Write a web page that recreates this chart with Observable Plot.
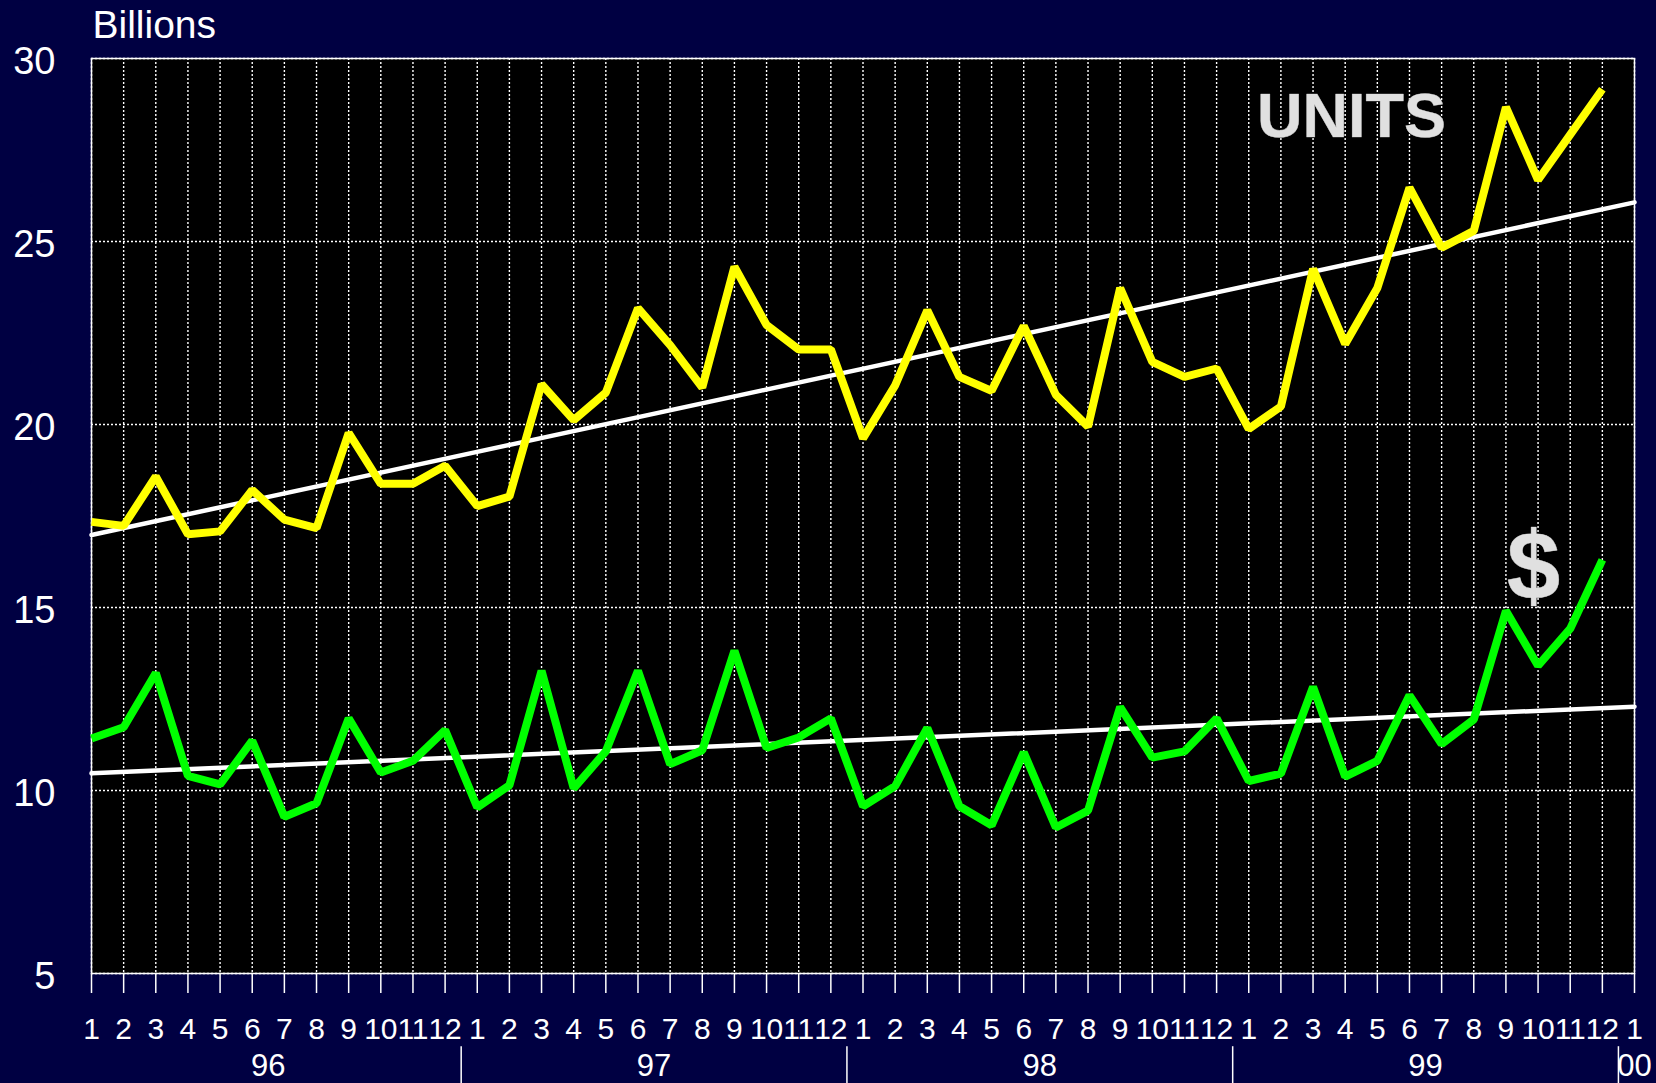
<!DOCTYPE html>
<html>
<head>
<meta charset="utf-8">
<script src="https://cdn.jsdelivr.net/npm/d3@7"></script>
<script src="https://cdn.jsdelivr.net/npm/@observablehq/plot@0.6"></script>
<style>
  html, body { margin: 0; padding: 0; background: #000042; overflow: hidden; }
  #chart svg { display: block; }
</style>
</head>
<body>
<div id="chart"></div>
<script>
// Month index 0 = Jan 1996 ... 47 = Dec 1999, 48 = Jan 2000
const monthLabels = ["1","2","3","4","5","6","7","8","9","10","11","12",
  "1","2","3","4","5","6","7","8","9","10","11","12",
  "1","2","3","4","5","6","7","8","9","10","11","12",
  "1","2","3","4","5","6","7","8","9","10","11","12","1"];
const yearLabels = ["96","97","98","99","00"];
const yearCenters = [5.5, 17.5, 29.5, 41.5, 48];
const yearSeparators = [11.5, 23.5, 35.5, 47.5];
const yTicks = [5, 10, 15, 20, 25, 30];

// UNITS (billions), Jan 96 - Dec 99
const units = [17.34, 17.23, 18.58, 17.00, 17.08, 18.21, 17.40, 17.17, 19.77, 18.38, 18.38, 18.87,
  17.77, 18.03, 21.10, 20.12, 20.87, 23.18, 22.17, 21.01, 24.31, 22.72, 22.05, 22.05,
  19.62, 21.07, 23.12, 21.30, 20.92, 22.69, 20.81, 19.94, 23.73, 21.71, 21.30, 21.53,
  19.88, 20.49, 24.25, 22.20, 23.73, 26.47, 24.83, 25.29, 28.67, 26.68, 27.92, 29.16];
// $ (billions)
const dollars = [11.42, 11.73, 13.21, 10.40, 10.17, 11.36, 9.28, 9.65, 11.97, 10.49, 10.81, 11.65,
  9.54, 10.14, 13.27, 10.06, 11.07, 13.27, 10.72, 11.10, 13.82, 11.16, 11.45, 11.97,
  9.57, 10.12, 11.71, 9.57, 9.05, 11.04, 8.99, 9.45, 12.28, 10.90, 11.07, 11.97,
  10.26, 10.46, 12.83, 10.38, 10.81, 12.60, 11.27, 11.94, 14.91, 13.41, 14.42, 16.30];
// Trend line endpoints (at month index 0 and 48)
const trendX = [0, 48];
const unitsTrend = [16.98, 26.07];
const dollarsTrend = [10.47, 12.29];

const unitsData = units.map((v, i) => ({i, v}));
const dollarsData = dollars.map((v, i) => ({i, v}));
const unitsTrendData = trendX.map((x, k) => ({i: x, v: unitsTrend[k]}));
const dollarsTrendData = trendX.map((x, k) => ({i: x, v: dollarsTrend[k]}));
const monthTicks = d3.range(monthLabels.length);

const font = "'Liberation Sans', Arial, Helvetica, sans-serif";

const chart = Plot.plot({
  width: 1656,
  height: 1083,
  marginLeft: 91,
  marginTop: 58,
  marginRight: 22,
  marginBottom: 110,
  style: {background: "transparent", color: "white", fontFamily: font, overflow: "visible"},
  x: {type: "linear", domain: [0, 48], axis: null, label: null},
  y: {type: "linear", domain: [5, 30], axis: null, label: null},
  marks: [
    Plot.frame({fill: "black"}),
    Plot.gridX(monthTicks, {stroke: "white", strokeOpacity: 1, strokeWidth: 1.4, strokeDasharray: "2,2"}),
    Plot.gridY(yTicks, {stroke: "white", strokeOpacity: 1, strokeWidth: 1.4, strokeDasharray: "2,2"}),
    Plot.frame({stroke: "white", strokeWidth: 1.5}),
    Plot.axisX(monthTicks, {label: null, tickSize: 20, tickPadding: 24, fontSize: 30, tickFormat: i => monthLabels[i], strokeWidth: 1.5}),
    Plot.axisX(yearCenters, {label: null, tickSize: 0, tickPadding: 80, fontSize: 31, tickFormat: d => yearLabels[yearCenters.indexOf(d)]}),
    Plot.ruleX(yearSeparators, {y1: 3.0, y2: 1.5, stroke: "white", strokeWidth: 1.5}),
    Plot.axisY(yTicks, {label: null, tickSize: 0, tickPadding: 36, fontSize: 38, dy: 3}),
    Plot.line(unitsTrendData, {x: "i", y: "v", stroke: "white", strokeWidth: 4.5}),
    Plot.line(dollarsTrendData, {x: "i", y: "v", stroke: "white", strokeWidth: 4.5}),
    Plot.line(unitsData, {x: "i", y: "v", stroke: "#ffff00", strokeWidth: 8, strokeLinejoin: "miter", strokeLinecap: "butt"}),
    Plot.line(dollarsData, {x: "i", y: "v", stroke: "#00ff00", strokeWidth: 8, strokeLinejoin: "miter", strokeLinecap: "butt"}),
    Plot.text(["Billions"], {frameAnchor: "top-left", text: d => d, textAnchor: "start", lineAnchor: "middle", dx: 1, dy: -33, fontSize: 39, fill: "white"}),
    Plot.text(["UNITS"], {x: 39.2, y: 28.41, text: d => d, textAnchor: "middle", lineAnchor: "middle", fontSize: 63, fontWeight: "bold", fill: "#e0e0e0", stroke: "#9a9a9a", strokeWidth: 0.6}),
    Plot.text(["$"], {x: 44.86, y: 16.08, text: d => d, textAnchor: "middle", lineAnchor: "middle", fontSize: 96, fontWeight: "bold", fill: "#e0e0e0", stroke: "#9a9a9a", strokeWidth: 0.6})
  ]
});
document.getElementById("chart").appendChild(chart);
</script>
</body>
</html>
